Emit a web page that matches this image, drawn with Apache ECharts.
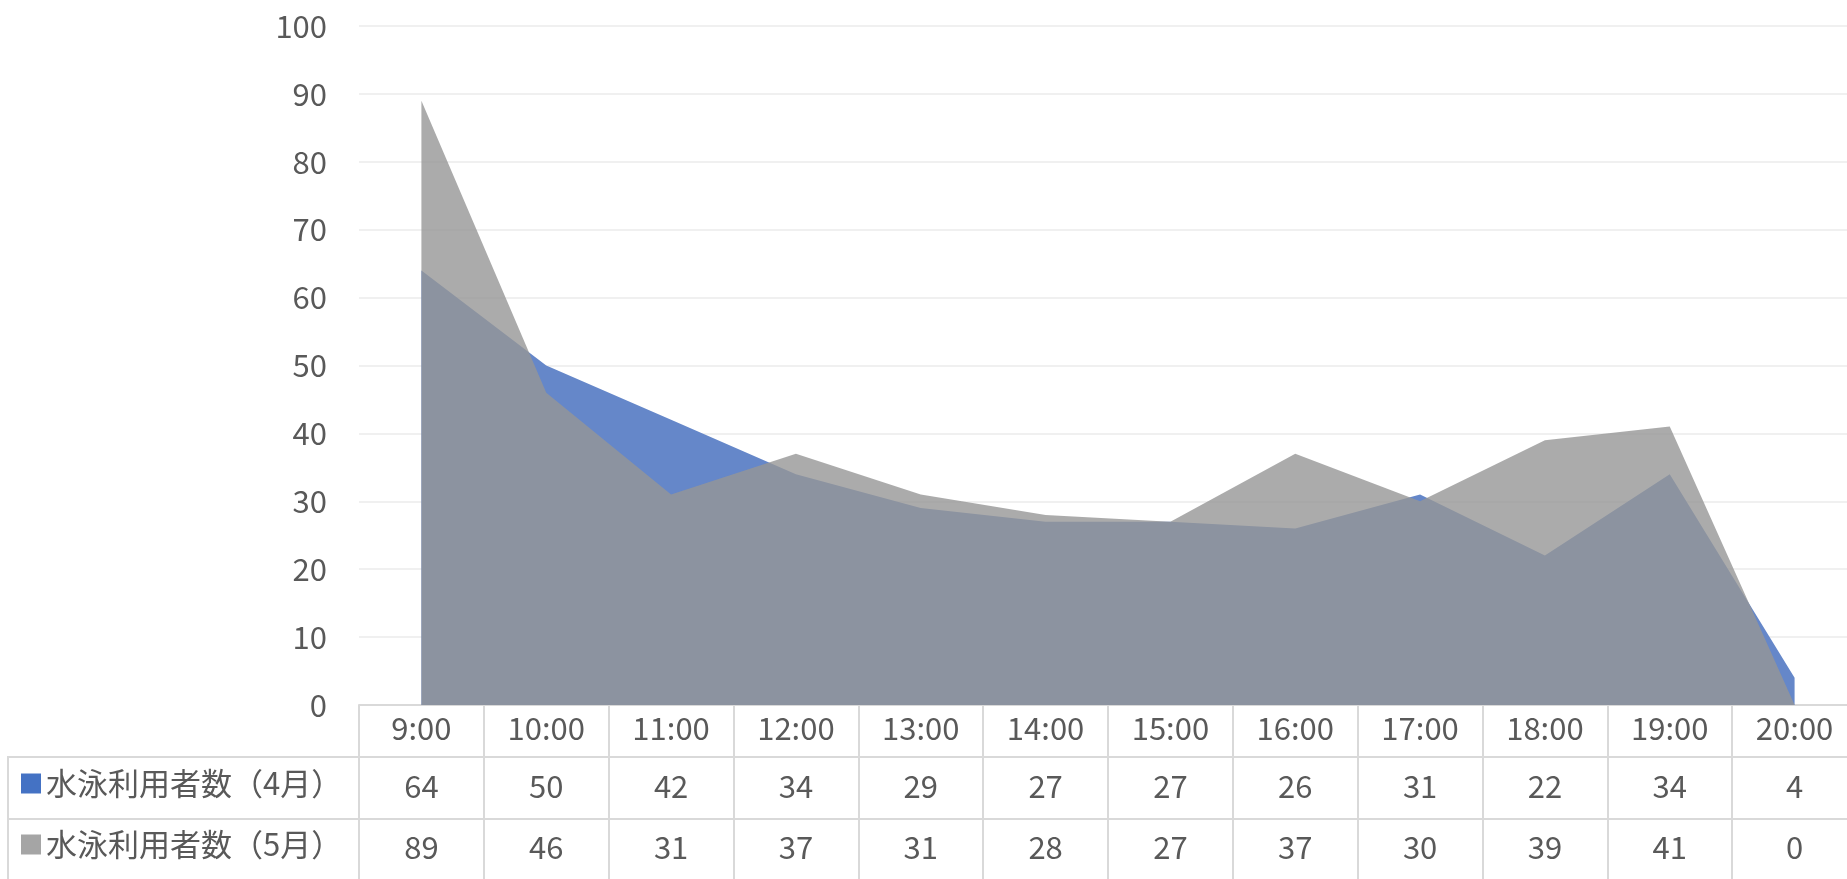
<!DOCTYPE html>
<html>
<head>
<meta charset="utf-8">
<script src="https://cdn.jsdelivr.net/npm/echarts@6/dist/echarts.min.js"></script>
<style>html,body{margin:0;padding:0;background:#fff;overflow:hidden;width:1847px;height:879px}#c{width:1857px;height:879px}</style>
</head>
<body>
<div id="c"></div>
<script>
const categories = ['9:00','10:00','11:00','12:00','13:00','14:00','15:00','16:00','17:00','18:00','19:00','20:00'];
const aprilName = '水泳利用者数（4月）';
const mayName = '水泳利用者数（5月）';
const aprilValues = [64, 50, 42, 34, 29, 27, 27, 26, 31, 22, 34, 4];
const mayValues = [89, 46, 31, 37, 31, 28, 27, 37, 30, 39, 41, 0];
const yTicks = {min: 0, max: 100, interval: 10};

const FONT = "'Noto Sans CJK JP', 'Noto Sans', sans-serif";
const TXT = '#595959';
const LINE = '#d9d9d9';
const FS = 31;

function legendFor(name, color, top) {
  return {
    orient: 'horizontal', left: 21, top: top, itemWidth: 20, itemHeight: 20, itemGap: 10,
    icon: 'rect', selectedMode: false, padding: 0,
    textStyle: {fontSize: FS, color: TXT, fontFamily: FONT},
    data: [{name: name, itemStyle: {color: color}}]
  };
}

const chart = echarts.init(document.getElementById('c'), null, {renderer: 'canvas'});
chart.setOption({
  animation: false,
  backgroundColor: '#fff',
  textStyle: {fontFamily: FONT},
  grid: {left: 359, top: 26, right: 0, bottom: 174, containLabel: false},
  legend: [
    legendFor(aprilName, '#4472C4', 768),
    legendFor(mayName, '#A5A5A5', 829)
  ],
  xAxis: [
    {
      type: 'category', data: categories, boundaryGap: true, position: 'bottom',
      axisLine: {show: true, lineStyle: {color: LINE, width: 2}},
      axisTick: {show: true, interval: 0, length: 180, lineStyle: {color: LINE, width: 2}},
      axisLabel: {interval: 0, margin: 8, fontSize: FS, color: TXT, fontFamily: FONT},
      splitLine: {show: false}
    },
    {
      type: 'category', data: aprilValues.map(String), boundaryGap: true, position: 'bottom', offset: 52,
      axisLine: {show: true, lineStyle: {color: LINE, width: 2}},
      axisTick: {show: false},
      axisLabel: {interval: 0, margin: 14, fontSize: FS, color: TXT, fontFamily: FONT},
      splitLine: {show: false}
    },
    {
      type: 'category', data: mayValues.map(String), boundaryGap: true, position: 'bottom', offset: 114,
      axisLine: {show: true, lineStyle: {color: LINE, width: 2}},
      axisTick: {show: false},
      axisLabel: {interval: 0, margin: 13, fontSize: FS, color: TXT, fontFamily: FONT},
      splitLine: {show: false}
    }
  ],
  yAxis: {
    type: 'value', min: yTicks.min, max: yTicks.max, interval: yTicks.interval,
    axisLine: {show: false}, axisTick: {show: false},
    axisLabel: {margin: 32, fontSize: FS, color: TXT, fontFamily: FONT},
    splitLine: {show: true, lineStyle: {color: '#f0f0f0', width: 2}}
  },
  graphic: [
    {type: 'line', shape: {x1: 8, y1: 757, x2: 360, y2: 757}, style: {stroke: LINE, lineWidth: 2}, silent: true},
    {type: 'line', shape: {x1: 8, y1: 819, x2: 360, y2: 819}, style: {stroke: LINE, lineWidth: 2}, silent: true},
    {type: 'line', shape: {x1: 8, y1: 756, x2: 8, y2: 879}, style: {stroke: LINE, lineWidth: 2}, silent: true}
  ],
  series: [
    {
      name: aprilName, type: 'line', data: aprilValues, xAxisIndex: 0,
      showSymbol: false, symbol: 'none',
      itemStyle: {color: '#4472C4'},
      lineStyle: {width: 0, color: '#6587C9'},
      areaStyle: {color: '#6587C9', opacity: 1},
      z: 2
    },
    {
      name: mayName, type: 'line', data: mayValues, xAxisIndex: 0,
      showSymbol: false, symbol: 'none',
      itemStyle: {color: '#A5A5A5'},
      lineStyle: {width: 0, color: 'rgba(150,150,150,0.8)'},
      areaStyle: {color: 'rgb(150,150,150)', opacity: 0.8},
      z: 3
    }
  ]
});
</script>
</body>
</html>
